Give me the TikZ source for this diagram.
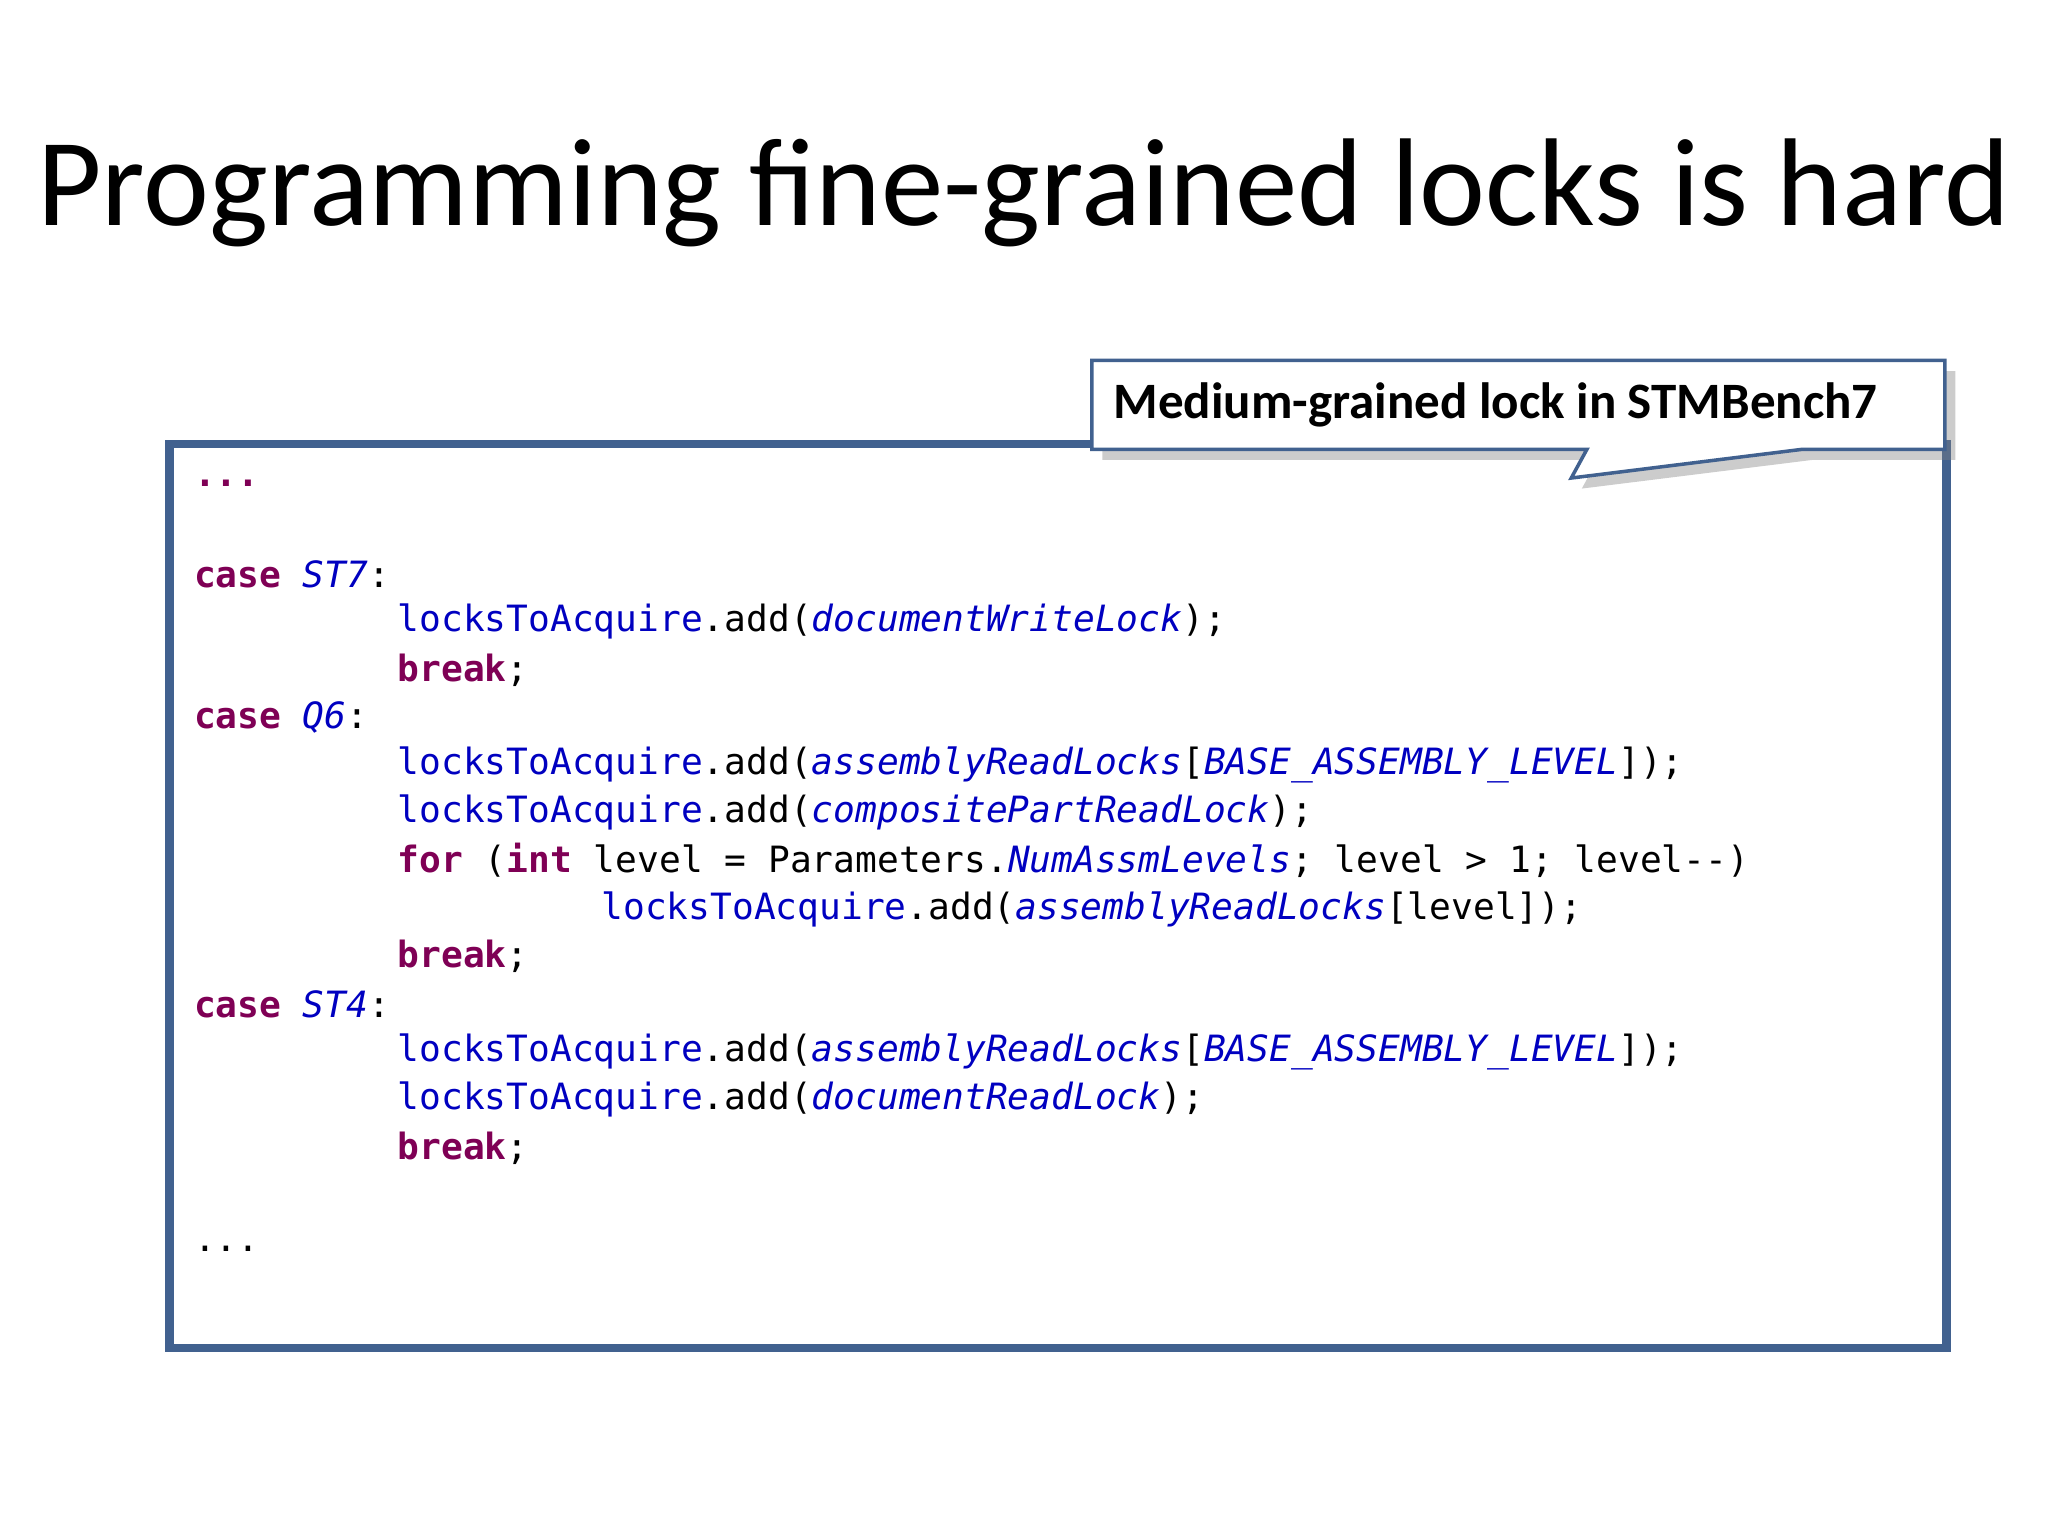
\documentclass[tikz,border=0pt]{standalone}
\usepackage{fontspec}
\setmainfont{Carlito}
\newfontfamily\codefont{DejaVu Sans Mono}
\usetikzlibrary{shadows}
\definecolor{frame}{HTML}{41618F}
\definecolor{kw}{HTML}{7F0055}
\definecolor{fld}{HTML}{0000C0}
\newcommand{\kw}[1]{\textcolor{kw}{\bfseries #1}}
\newcommand{\fl}[1]{\textcolor{fld}{#1}}
\newcommand{\fit}[1]{\textcolor{fld}{\itshape #1}}
\begin{document}
\begin{tikzpicture}[x=0.01306cm,y=-0.01306cm,
  code/.style={anchor=west,inner sep=0pt,font=\codefont\fontsize{10.3pt}{12pt}\selectfont}]
\useasboundingbox (0,0) rectangle (1568,1176);
\node[anchor=west,inner sep=0pt] (title) at (28,148) {\resizebox{19.72cm}{!}{Programming fine-grained locks is hard}};
\draw[frame,line width=2.5pt] (130,340) rectangle (1490,1032);
\node (box) at (810,686) {};
\path[draw=frame,line width=1pt,fill=white,drop shadow={shadow xshift=3pt,shadow yshift=-3pt,opacity=0.4}]
 (836,276) -- (1489,276) -- (1489,344) -- (1380,344) -- (1203,366) -- (1215,344) -- (836,344) -- cycle;
\node[anchor=west,inner sep=0pt] (callout) at (852,310) {\resizebox{7.64cm}{!}{\bfseries Medium-grained lock in STMBench7}};
\node[code] (l1) at (148,370) {\kw{...}};
\node[code] (l2) at (148,440) {\kw{case} \fit{ST7}:};
\node[code] (l3) at (304,476) {\fl{locksToAcquire}.add(\fit{documentWriteLock});};
\node[code] (l4) at (304,513) {\kw{break};};
\node[code] (l5) at (148,549) {\kw{case} \fit{Q6}:};
\node[code] (l6) at (304,586) {\fl{locksToAcquire}.add(\fit{assemblyReadLocks}[\fit{BASE\_ASSEMBLY\_LEVEL}]);};
\node[code] (l7) at (304,622) {\fl{locksToAcquire}.add(\fit{compositePartReadLock});};
\node[code] (l8) at (304,659) {\kw{for} (\kw{int} level = Parameters.\fit{NumAssmLevels}; level > 1; level-{}-)};
\node[code] (l9) at (460,696) {\fl{locksToAcquire}.add(\fit{assemblyReadLocks}[level]);};
\node[code] (l10) at (304,732) {\kw{break};};
\node[code] (l11) at (148,769) {\kw{case} \fit{ST4}:};
\node[code] (l12) at (304,805) {\fl{locksToAcquire}.add(\fit{assemblyReadLocks}[\fit{BASE\_ASSEMBLY\_LEVEL}]);};
\node[code] (l13) at (304,842) {\fl{locksToAcquire}.add(\fit{documentReadLock});};
\node[code] (l14) at (304,879) {\kw{break};};
\node[code] (l15) at (148,956) {...};
\end{tikzpicture}
\end{document}
